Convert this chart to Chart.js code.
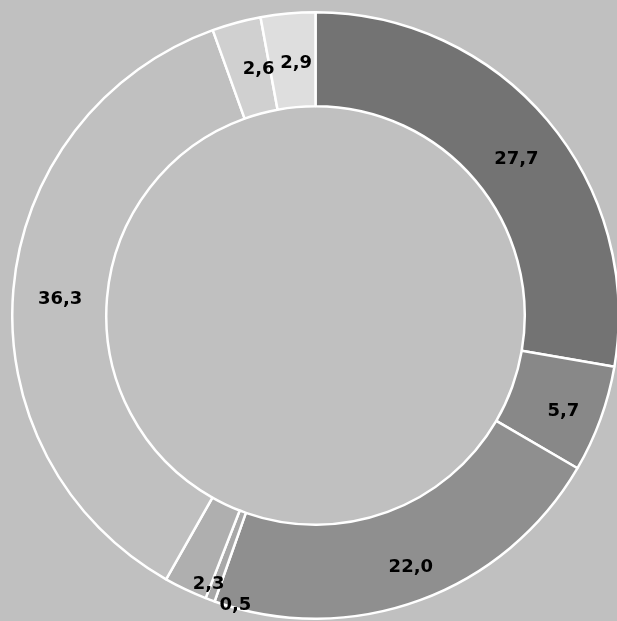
<!DOCTYPE html>
<html>
<head>
<meta charset="utf-8">
<script src="https://cdn.jsdelivr.net/npm/chart.js@4/dist/chart.umd.min.js"></script>
<style>
html, body { margin:0; padding:0; background:#c0c0c0; overflow:hidden; width:617px; height:621px; }
#wrap { position:absolute; left:11px; top:11px; width:609px; height:609px; }
</style>
</head>
<body>
<div id="wrap"><canvas id="myChart"></canvas></div>
<script>
// slice values, clockwise from 12 o'clock
var sliceLabels = ["A","B","C","D","E","F","G","H"];
var sliceValues = [27.7, 5.7, 22.0, 0.5, 2.3, 36.3, 2.6, 2.9];
var sliceColors = ["#737373","#888888","#8f8f8f","#a8a8a8","#afafaf","#c0c0c0","#d0d0d0","#dedede"];

// small nudges for labels that excel pushed off the middle of their slice
var labelShift = [[5,9],[7,8],[7,11],[9,50],[3,37],[0,6],[10,1],[4,3]];

var valueLabels = {
    id:"valueLabels",
    afterDatasetsDraw:function(chart){
        var ctx = chart.ctx;
        var meta = chart.getDatasetMeta(0);
        ctx.save();
        ctx.font = "bold 18px 'DejaVu Sans'";
        ctx.fillStyle = "#000";
        ctx.textAlign = "center";
        ctx.textBaseline = "middle";
        meta.data.forEach(function(arc, i){
            var p = arc.tooltipPosition();
            var s = labelShift[i];
            ctx.fillText(sliceValues[i].toFixed(1).replace(".", ","), p.x + s[0], p.y + s[1]);
        });
        ctx.restore();
    }
};

var myChart = document.getElementById("myChart").getContext("2d");
var donut = new Chart(myChart,{
    type:"doughnut",
    data:{
        labels:sliceLabels,
        datasets:[{
            data:sliceValues,
            backgroundColor:sliceColors,
            borderColor:"#ffffff",
            borderWidth:2.5,
            hoverOffset:0
        }]
    },
    options:{
        responsive:true,
        maintainAspectRatio:false,
        animation:false,
        cutout:"69%",
        events:[],
        layout:{padding:0},
        plugins:{
            legend:{display:false},
            tooltip:{enabled:false}
        }
    },
    plugins:[valueLabels]
});
</script>
</body>
</html>
